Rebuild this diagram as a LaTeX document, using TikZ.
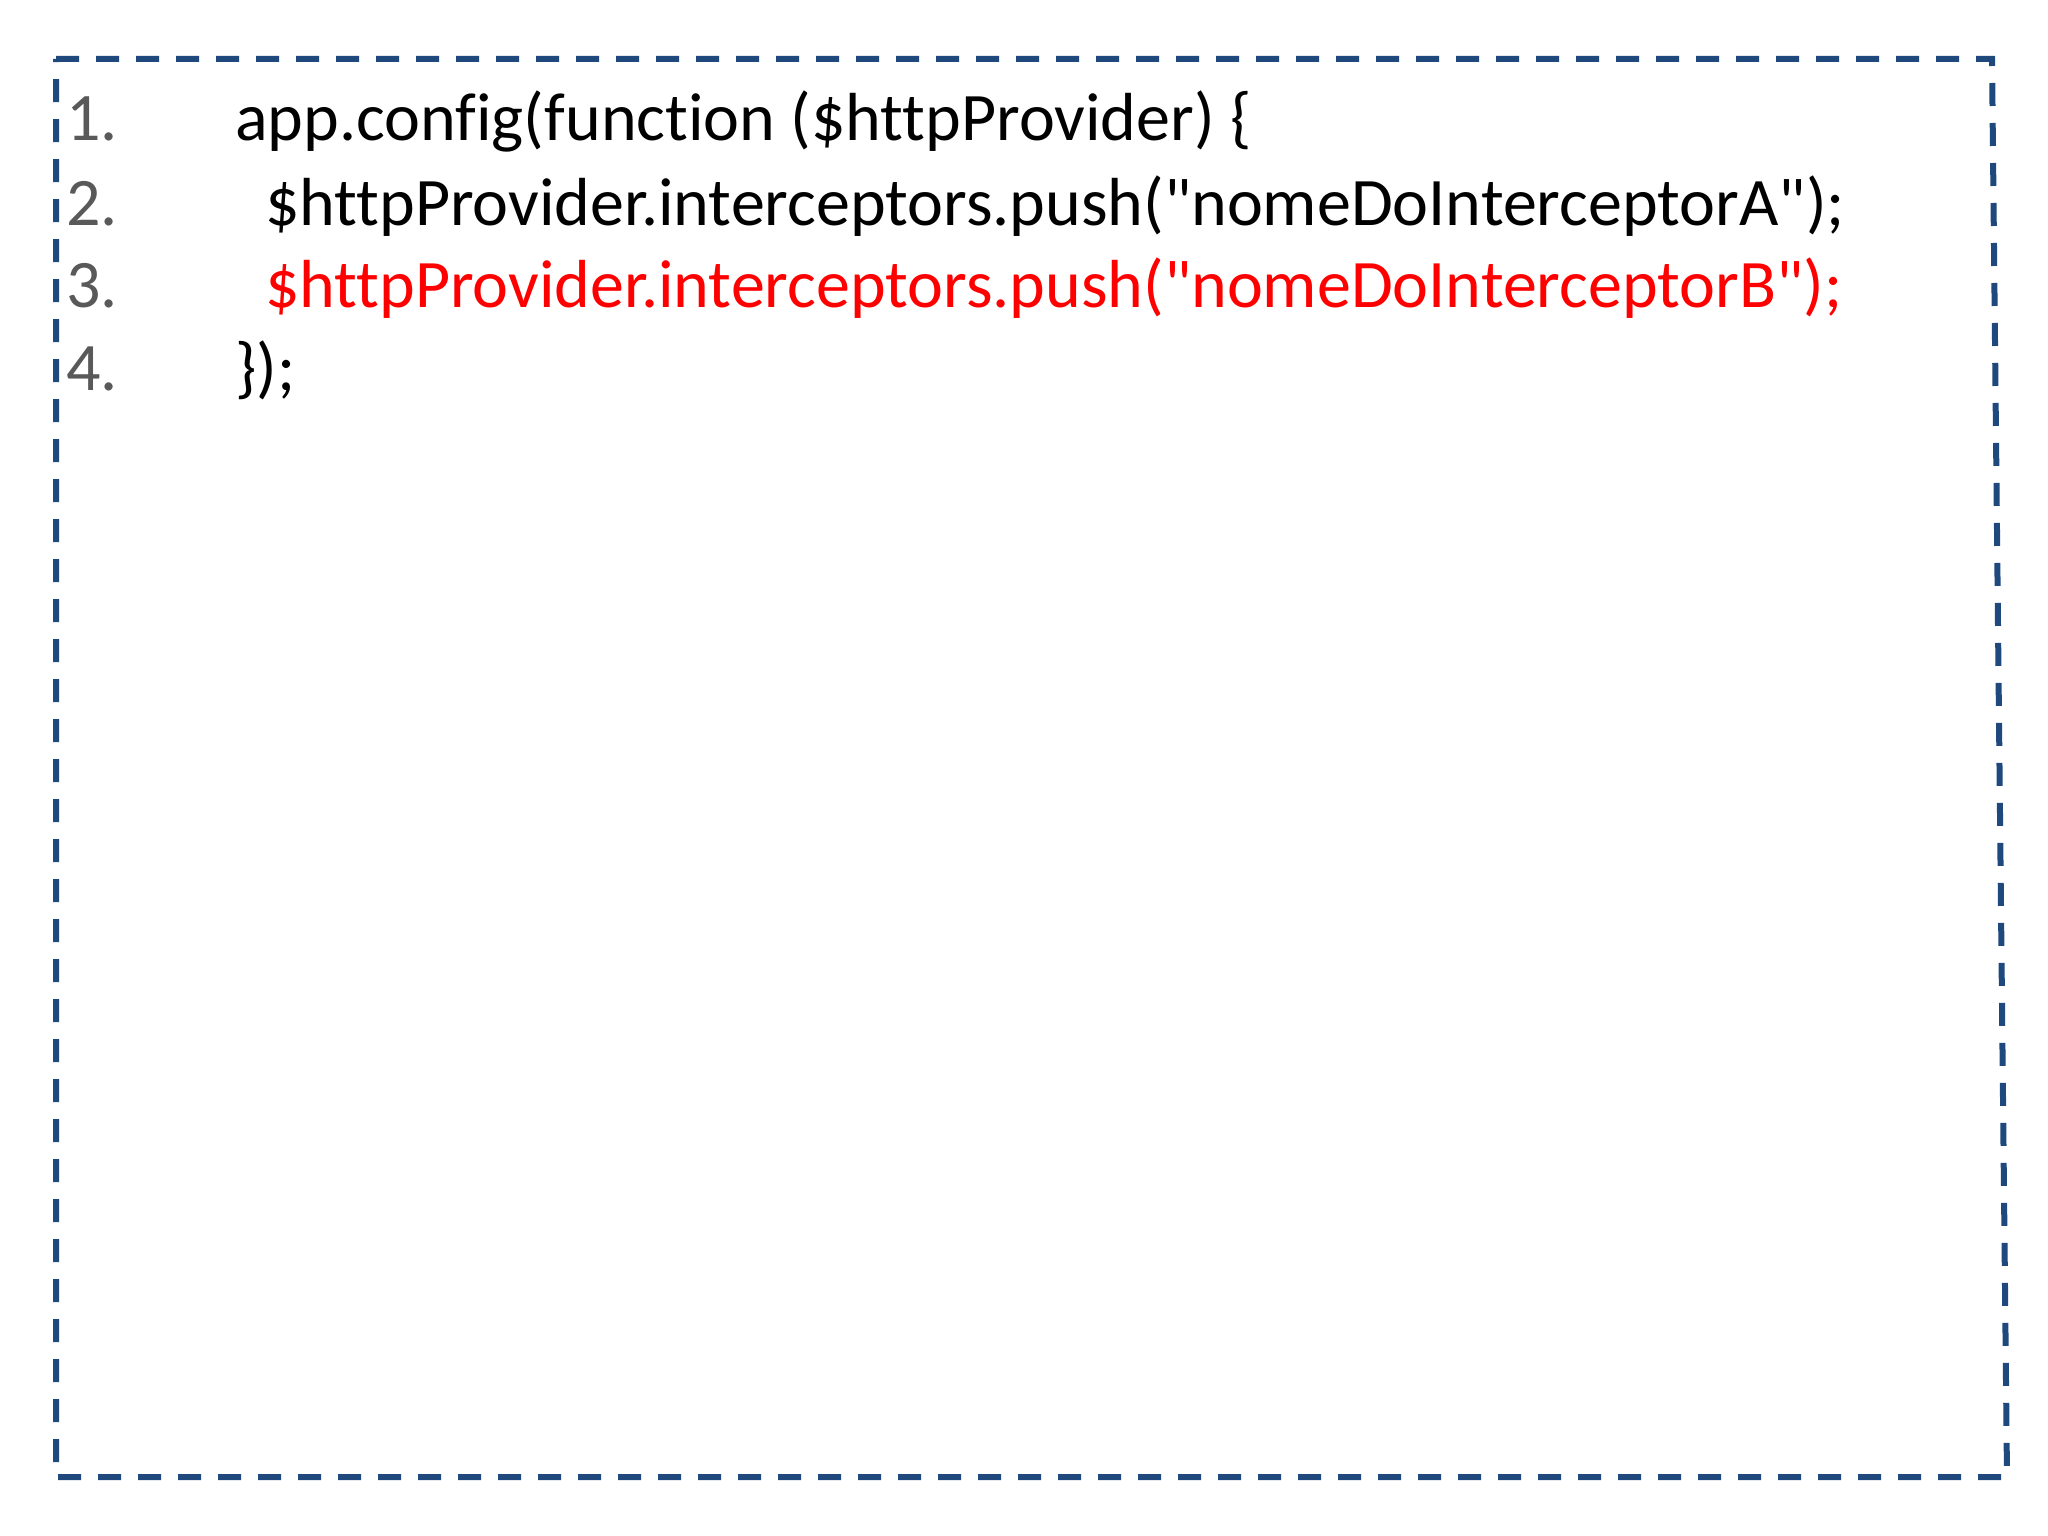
\documentclass[tikz,border=0pt]{standalone}
\usepackage{fontspec}
\newfontfamily\codefont{Carlito}[Ligatures=NoCommon]
\definecolor{boxblue}{RGB}{31,73,125}
\definecolor{numgray}{RGB}{89,89,89}
\definecolor{codered}{RGB}{255,0,0}
\begin{document}
\begin{tikzpicture}[x=1pt,y=-1pt,
  code/.style={anchor=base west,inner sep=0pt,font=\codefont\fontsize{68}{80}\selectfont},
  num/.style={code,text=numgray},
  frame/.style={draw=boxblue,line width=6pt,dash pattern=on 23pt off 17pt}]
\useasboundingbox (0,0) rectangle (2048,1536);
\draw[frame] (56,59) -- (1992,59) -- (2007,1477) -- (56,1477) -- cycle;
\node[num] (n1) at (66,141) {1.};
\node[num] (n2) at (66,225) {2.};
\node[num] (n3) at (66,307) {3.};
\node[num] (n4) at (66,390) {4.};
\node[code] (l1) at (235,141) {app.config(function (\$httpProvider) \{};
\node[code] (l2) at (265,225) {\$httpProvider.interceptors.push("nomeDoInterceptorA");};
\node[code,text=codered] (l3) at (265,307) {\$httpProvider.interceptors.push("nomeDoInterceptorB");};
\node[code] (l4) at (235,390) {\});};
\end{tikzpicture}
\end{document}
